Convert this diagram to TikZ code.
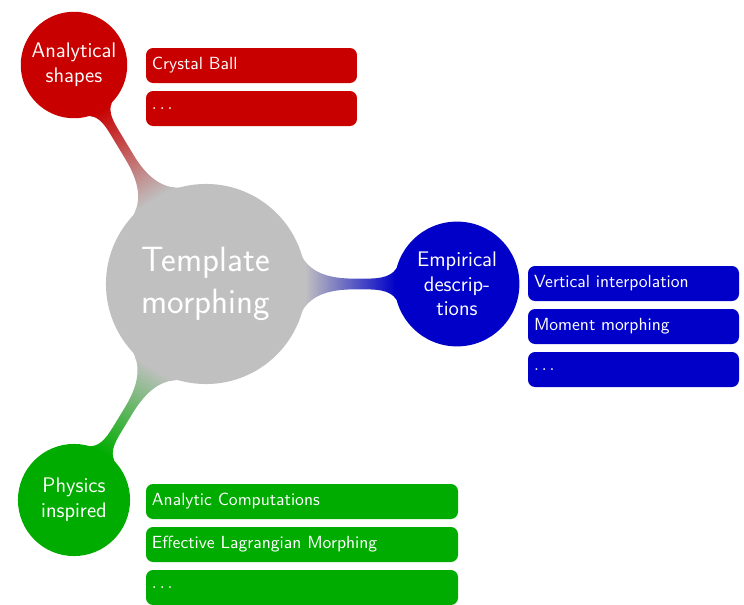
\documentclass[tikz,border=0pt]{standalone}
\usetikzlibrary{mindmap,positioning}
\definecolor{cgray}{RGB}{192,192,192}
\definecolor{cred}{RGB}{200,0,0}
\definecolor{cblue}{RGB}{0,0,200}
\definecolor{cgreen}{RGB}{0,172,0}
\tikzset{
  topic/.style={concept, concept color=#1, text=white, align=center, inner sep=0pt},
  leaf/.style={rectangle, rounded corners=4pt, fill=#1, text=white, font=\sffamily,
    minimum height=0.7cm, inner xsep=0.12cm, inner ysep=0pt, text width=3.98cm, align=left},
  wide leaf/.style={leaf=#1, text width=6cm},
}
\begin{document}
\begin{tikzpicture}[mindmap]
  \useasboundingbox (0,0) rectangle (14.88,12.08);
  % concepts
  \node [topic=cgray, minimum size=3.96cm, text width=3.5cm, font=\sffamily\fontsize{20}{24}\selectfont] (core) at (4.12,6.4) {Template\\morphing};
  \node [topic=cred, minimum size=2.08cm, text width=1.9cm, font=\sffamily\large] (ana) at (1.48,10.78) {Analytical\\shapes};
  \node [topic=cblue, minimum size=2.4cm, text width=2.1cm, font=\sffamily\large] (emp) at (9.14,6.4) {Empirical\\descrip-\\tions};
  \node [topic=cgreen, minimum size=2.2cm, text width=1.9cm, font=\sffamily\large] (phy) at (1.48,2.08) {Physics\\inspired};
  % connections
  \path (core) to[circle connection bar switch color=from (cgray) to (cred)] (ana);
  \path (core) to[circle connection bar switch color=from (cgray) to (cblue)] (emp);
  \path (core) to[circle connection bar switch color=from (cgray) to (cgreen)] (phy);
  % leaves
  \node [leaf=cred, anchor=north west] (cb) at (2.92,11.12) {Crystal Ball};
  \node [leaf=cred, below=0.16cm of cb] (ana dots) {$\ldots$};
  \node [leaf=cblue, anchor=north west] (vi) at (10.56,6.76) {Vertical interpolation};
  \node [leaf=cblue, below=0.16cm of vi] (mm) {Moment morphing};
  \node [leaf=cblue, below=0.16cm of mm] (emp dots) {$\ldots$};
  \node [wide leaf=cgreen, anchor=north west] (ac) at (2.92,2.4) {Analytic Computations};
  \node [wide leaf=cgreen, below=0.16cm of ac] (el) {Effective Lagrangian Morphing};
  \node [wide leaf=cgreen, below=0.16cm of el] (phy dots) {$\ldots$};
\end{tikzpicture}
\end{document}
